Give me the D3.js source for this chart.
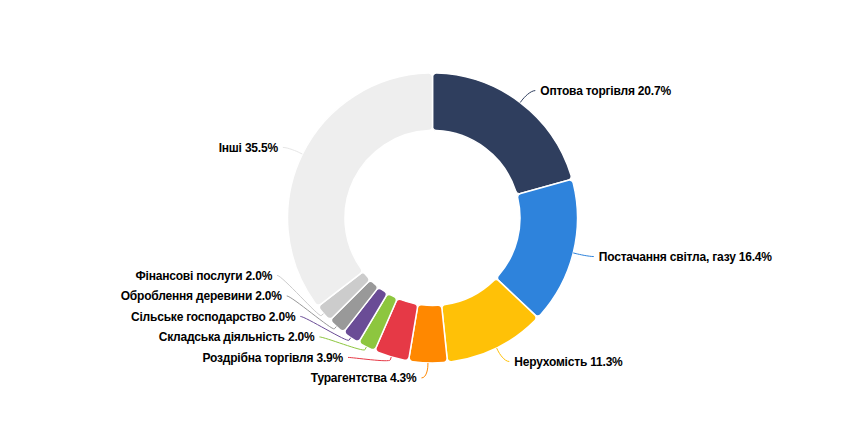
<!DOCTYPE html>
<html>
<head>
<meta charset="utf-8">
<script src="https://cdn.jsdelivr.net/npm/d3@7"></script>
<style>
  html, body { margin: 0; padding: 0; background: #fff; }
  svg { display: block; }
</style>
</head>
<body>
<svg id="chart" width="866" height="428"></svg>
<script>
const categories = [
  "Оптова торгівля",
  "Постачання світла, газу",
  "Нерухомість",
  "Турагентства",
  "Роздрібна торгівля",
  "Складська діяльність",
  "Сільське господарство",
  "Оброблення деревини",
  "Фінансові послуги",
  "Інші"
];
const values = [20.7, 16.4, 11.3, 4.3, 3.9, 2.0, 2.0, 2.0, 2.0, 35.5];
const colors = [
  "#2f3e5e", "#2e83dc", "#ffc107", "#ff8800", "#e63946",
  "#8dc63f", "#6a4c96", "#999999", "#cccccc", "#eeeeee"
];

const W = 866, H = 428;
const cx = 432.5, cy = 218;
const outerR = 145, innerR = 87.5;
const labelDist = 15, spacing = 20.5;

const svg = d3.select("#chart");
const g = svg.append("g").attr("transform", `translate(${cx},${cy})`);

const pie = d3.pie().sort(null).value(d => d.v);
const data = categories.map((c, i) => ({ name: c, v: values[i], color: colors[i] }));
const arcs = pie(data);

const arc = d3.arc().innerRadius(innerR).outerRadius(outerR).cornerRadius(4);

g.selectAll("path.slice").data(arcs).join("path")
  .attr("class", "slice")
  .attr("d", arc)
  .attr("fill", d => d.data.color)
  .attr("stroke", "#fff")
  .attr("stroke-width", 1.5)
  .attr("stroke-linejoin", "round");

// label layout
const R = outerR + labelDist;
const labels = arcs.map(a => {
  const th = (a.startAngle + a.endAngle) / 2;
  return {
    a, th,
    left: Math.sin(th) < 0,
    y: -R * Math.cos(th)
  };
});
function distribute(list) {
  list.sort((p, q) => p.y - q.y);
  for (let i = list.length - 2; i >= 0; i--) {
    list[i].y = Math.min(list[i].y, list[i + 1].y - spacing);
  }
  for (let i = 1; i < list.length; i++) {
    list[i].y = Math.max(list[i].y, list[i - 1].y + spacing);
  }
}
distribute(labels.filter(l => l.left));
distribute(labels.filter(l => !l.left));

labels.forEach(l => {
  const dy = l.y;
  const dx = Math.abs(dy) < R ? Math.sqrt(R * R - dy * dy) : 0;
  l.x = l.left ? -dx : dx;
  const s = l.left ? -1 : 1;
  const touch = [outerR * Math.sin(l.th), -outerR * Math.cos(l.th)];
  const brk = [(outerR + 3) * Math.sin(l.th), -(outerR + 3) * Math.cos(l.th)];
  const sx = l.x + s * 6;
  const p = d3.path();
  p.moveTo(sx, l.y);
  p.bezierCurveTo(sx - s * 5, l.y, 2 * brk[0] - touch[0], 2 * brk[1] - touch[1], brk[0], brk[1]);
  p.lineTo(touch[0], touch[1]);
  l.path = p.toString();
});

g.selectAll("path.conn").data(labels).join("path")
  .attr("class", "conn")
  .attr("d", l => l.path)
  .attr("fill", "none")
  .attr("stroke", l => l.a.data.color === "#eeeeee" ? "#e6e6e6" : l.a.data.color)
  .attr("stroke-width", 1);

g.selectAll("text.lbl").data(labels).join("text")
  .attr("class", "lbl")
  .attr("x", l => l.x + (l.left ? -11 : 11))
  .attr("y", l => l.y)
  .attr("dy", "0.36em")
  .attr("text-anchor", l => l.left ? "end" : "start")
  .attr("font-family", "Helvetica, 'Liberation Sans', Arial, sans-serif")
  .attr("font-weight", "bold")
  .attr("font-size", "12px")
  .attr("letter-spacing", "-0.2px")
  .attr("fill", "#000")
  .text(l => `${l.a.data.name} ${d3.format(".1f")(l.a.data.v)}%`);
</script>
</body>
</html>
